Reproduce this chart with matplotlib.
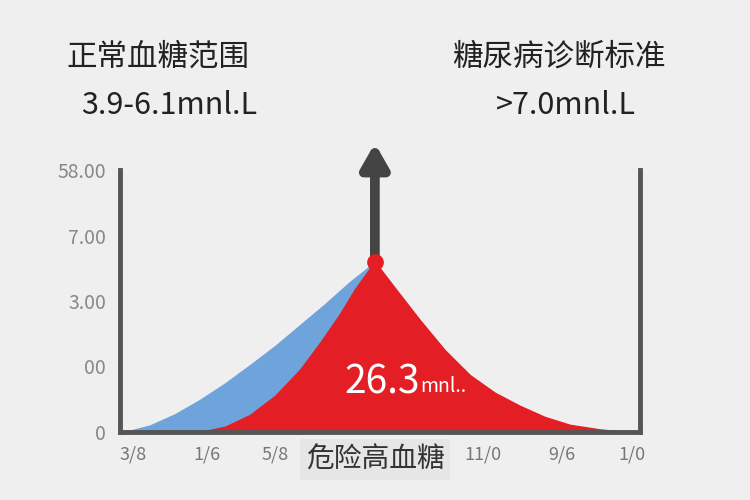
import matplotlib.pyplot as plt

plt.rcParams['font.family'] = ['Noto Sans CJK SC', 'DejaVu Sans']

y_ticks = [0, 1, 2, 3, 4]
y_labels = ["0", "00", "3.00", "7.00", "58.00"]
x_ticks = [13, 87, 155, 225, 290, 363, 442, 512]
x_labels = ["3/8", "1/6", "5/8", "V/5", "V/5", "11/0", "9/6", "1/0"]

blue_x = [5, 30, 55, 80, 105, 130, 155, 180, 205, 230, 245, 255]
blue_y = [0, 0.1, 0.27, 0.49, 0.74, 1.02, 1.31, 1.63, 1.95, 2.29, 2.47, 2.6]
red_x = [80, 105, 130, 155, 180, 200, 220, 235, 255, 275, 300, 325, 350, 375,
         400, 425, 450, 480, 508]
red_y = [0, 0.08, 0.26, 0.55, 0.95, 1.36, 1.8, 2.18, 2.6, 2.2, 1.71, 1.25,
         0.87, 0.6, 0.4, 0.23, 0.11, 0.04, 0]
peak_x, peak_y = 255, 2.6
arrow_top = 4.45

fig = plt.figure(figsize=(7.5, 5), dpi=100)
fig.patch.set_facecolor('#efefef')
ax = fig.add_axes([0.16, 0.136, 0.693, 0.524])
ax.set_facecolor('#efefef')

ax.fill_between(blue_x, blue_y, color='#6fa3dc')
ax.fill_between(red_x, red_y, color='#e31e24')
ax.plot(peak_x, peak_y, 'o', color='#e31e24', ms=11, zorder=5)
ax.annotate('', xy=(peak_x, arrow_top), xytext=(peak_x, peak_y),
            arrowprops=dict(arrowstyle='-|>,head_width=0.8,head_length=1.4',
                            color='#444444', lw=7), annotation_clip=False)
ax.text(300, 0.75, '26.3', color='white', fontsize=28, ha='right', va='center')
ax.text(300, 0.7, 'mnl..', color='white', fontsize=14, ha='left', va='center')

ax.set_xlim(0, 520)
ax.set_ylim(0, 4)
ax.spines['top'].set_visible(False)
for s in ['left', 'right', 'bottom']:
    ax.spines[s].set_color('#555555')
    ax.spines[s].set_linewidth(3.5)
ax.set_yticks(y_ticks, y_labels, color='#888888', fontsize=14)
ax.set_xticks(x_ticks, x_labels, color='#777777', fontsize=13)
ax.tick_params(length=0, pad=10)

fig.text(0.21, 0.885, '正常血糖范围', fontsize=22, color='#222222', ha='center', va='center')
fig.text(0.225, 0.79, '3.9-6.1mnl.L', fontsize=22, color='#222222', ha='center', va='center')
fig.text(0.745, 0.885, '糖尿病诊断标准', fontsize=22, color='#222222', ha='center', va='center')
fig.text(0.755, 0.79, '>7.0mnl.L', fontsize=22, color='#222222', ha='center', va='center')
fig.text(0.5, 0.065, '危险高血糖', fontsize=20, color='#333333', ha='center',
         bbox=dict(facecolor='#e6e6e6', edgecolor='none', pad=4), zorder=10)

fig.savefig('out.png')
